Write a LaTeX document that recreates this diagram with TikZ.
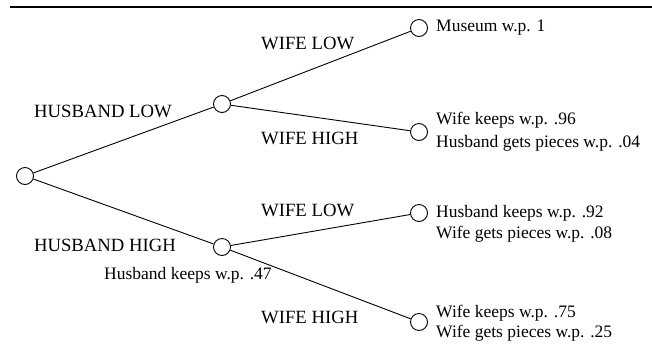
\documentclass[tikz,border=0pt]{standalone}
\usepackage{fontspec}
\setmainfont{Liberation Serif}
\begin{document}
\begin{tikzpicture}[x=1bp,y=-1bp,
  chance/.style={circle,draw,line width=0.9bp,minimum size=17bp,inner sep=0pt},
  edge/.style={line width=0.9bp},
  caps/.style={inner sep=0pt,font=\fontsize{18.7bp}{20bp}\selectfont},
  outc/.style={inner sep=0pt,anchor=west,font=\fontsize{17.5bp}{20bp}\selectfont}]
\useasboundingbox (0,0) rectangle (652,343);
\coordinate (tl) at (10,7);
\coordinate (tr) at (652,7);
\draw[line width=2bp] (tl) -- (tr);
\node[chance] (root) at (25,176) {};
\node[chance] (hl) at (222,104) {};
\node[chance] (hh) at (222,247) {};
\node[chance] (l1) at (419,28) {};
\node[chance] (l2) at (419,132) {};
\node[chance] (l3) at (419,213) {};
\node[chance] (l4) at (419,322) {};
\draw[edge] (root) -- (hl);
\draw[edge] (root) -- (hh);
\draw[edge] (hl) -- (l1);
\draw[edge] (hl) -- (l2);
\draw[edge] (hh) -- (l3);
\draw[edge] (hh) -- (l4);
\node[caps] (t1) at (103,111) {HUSBAND LOW};
\node[caps] (t2) at (105,245) {HUSBAND HIGH};
\node[outc] (t3) at (104,275) {Husband keeps w.p. .47};
\node[caps,anchor=west] (t4) at (261,43) {WIFE LOW};
\node[caps,anchor=west] (t5) at (261,138) {WIFE HIGH};
\node[caps,anchor=west] (t6) at (261,210) {WIFE LOW};
\node[caps,anchor=west] (t7) at (261,317) {WIFE HIGH};
\node[outc] (o1) at (436,28) {Museum w.p. 1};
\node[outc] (o2) at (436,120) {Wife keeps w.p. .96};
\node[outc] (o3) at (436,143) {Husband gets pieces w.p. .04};
\node[outc] (o4) at (436,213) {Husband keeps w.p. .92};
\node[outc] (o5) at (436,234) {Wife gets pieces w.p. .08};
\node[outc] (o6) at (436,313) {Wife keeps w.p. .75};
\node[outc] (o7) at (436,333) {Wife gets pieces w.p. .25};
\end{tikzpicture}
\end{document}
